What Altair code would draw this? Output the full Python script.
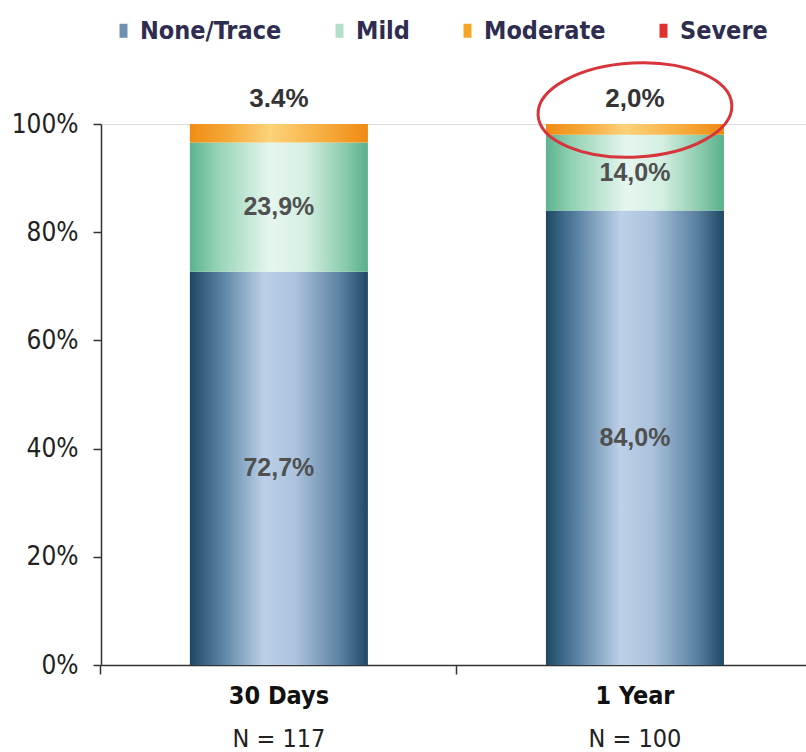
import altair as alt
import pandas as pd

# Chart values
periods = ["30 Days", "1 Year"]
sample_sizes = ["N = 117", "N = 100"]
categories = ["None/Trace", "Mild", "Moderate", "Severe"]
none_trace = [72.7, 84.0]
mild = [23.9, 14.0]
moderate = [3.4, 2.0]
severe = [0.0, 0.0]
top_labels = ["3.4%", "2,0%"]
highlighted = ["1 Year"]

legend_colors = ["#6f90b0", "#b3e0c9", "#f5a623", "#e0312f"]

series = [none_trace, mild, moderate, severe]
rows = []
for i, p in enumerate(periods):
    for order, (cat, vals) in enumerate(zip(categories, series)):
        rows.append({
            "period": p,
            "category": cat,
            "order": order,
            "value": vals[i],
            "label": f"{vals[i]:.1f}".replace(".", ",") + "%",
        })
df = pd.DataFrame(rows)

totals = pd.DataFrame({
    "period": periods,
    "total": [sum(s[i] for s in series) for i in range(len(periods))],
    "top_label": top_labels,
})


def gradient(stops):
    return alt.LinearGradient(
        gradient="linear", x1=0, x2=1, y1=0, y2=0,
        stops=[alt.GradientStop(offset=o, color=c) for o, c in stops],
    )


fills = {
    "None/Trace": gradient([(0, "#1d4864"), (0.15, "#4f7a9b"), (0.42, "#bcd1e8"),
                            (0.6, "#aac2dc"), (0.85, "#5a80a0"), (1, "#1e4864")]),
    "Mild": gradient([(0, "#5bb48e"), (0.15, "#93d2b4"), (0.45, "#e6f6ee"),
                      (0.65, "#d5efe2"), (0.88, "#86c9a9"), (1, "#5aaf8b")]),
    "Moderate": gradient([(0, "#f08c15"), (0.2, "#f5a736"), (0.45, "#fcd27a"),
                          (0.7, "#f8b449"), (1, "#ef8a12")]),
    "Severe": gradient([(0, "#b81c1c"), (0.45, "#f06060"), (1, "#b81c1c")]),
}

FONT = "DejaVu Sans Condensed"
W, H = 705, 541

x_scale = alt.Scale(domain=periods, paddingInner=0.5, paddingOuter=0.24, align=0.52)
y_scale = alt.Scale(domain=[0, 100])
y_axis = alt.Axis(
    values=[0, 20, 40, 60, 80, 100], labelExpr="datum.value + '%'", title=None,
    grid=False, domain=True, ticks=True, labels=True,
    tickSize=8, labelPadding=15, labelFont=FONT, labelFontSize=26,
    labelColor="#222222", domainColor="#333333", tickColor="#333333",
    domainWidth=1.5, tickWidth=1.5,
)
main_x_axis = alt.Axis(
    title=None, labelAngle=0, domain=True, ticks=True, labels=True, grid=False,
    tickSize=9, bandPosition=-0.5, labelPadding=9,
    labelFont=FONT, labelFontSize=25, labelFontWeight="bold", labelColor="#111111",
    domainColor="#333333", tickColor="#333333", domainWidth=1.5, tickWidth=1.5,
    orient="bottom",
)
n_lookup = "{" + ",".join(f"'{p}':'{n}'" for p, n in zip(periods, sample_sizes)) + "}"
n_axis = alt.Axis(
    title=None, labelAngle=0, domain=False, ticks=False, labels=True, grid=False,
    labelPadding=61,
    labelExpr=n_lookup + "[datum.value]", labelFont=FONT, labelFontSize=25,
    labelColor="#222222", orient="bottom",
)

base = alt.Chart(df).transform_stack(
    stack="value", groupby=["period"], as_=["y0", "y1"],
    sort=[alt.SortField("order", order="ascending")],
).transform_filter(alt.datum.value > 0)

# one gradient-filled layer per severity class
layers = []
for k, cat in enumerate(categories):
    layers.append(
        base.transform_filter(alt.datum.category == cat)
        .mark_bar(color=fills[cat])
        .encode(
            x=alt.X("period:N", sort=periods, scale=x_scale,
                    axis=main_x_axis if k == 0 else None),
            y=alt.Y("y0:Q", scale=y_scale, axis=y_axis),
            y2="y1:Q",
        )
    )

# in-bar percentages for the two larger segments
inner_text = (
    base.transform_filter(alt.datum.value >= 10)
    .transform_calculate(mid="(datum.y0 + datum.y1) / 2")
    .mark_text(font="Liberation Sans", fontSize=25, fontWeight="bold", color="#505050")
    .encode(
        x=alt.X("period:N", sort=periods, scale=x_scale, axis=None),
        y=alt.Y("mid:Q", scale=y_scale, axis=y_axis),
        text="label:N",
    )
)

top_text = (
    alt.Chart(totals)
    .mark_text(font="Liberation Sans", fontSize=26, fontWeight="bold", color="#333333", dy=-25)
    .encode(
        x=alt.X("period:N", sort=periods, scale=x_scale, axis=None),
        y=alt.Y("total:Q", scale=y_scale, axis=y_axis),
        text="top_label:N",
    )
)

ellipse = (
    alt.Chart(totals)
    .transform_filter(alt.FieldOneOfPredicate(field="period", oneOf=highlighted))
    .mark_point(
        shape="M-1,0 A1,0.485 0 1,1 1,0 A1,0.485 0 1,1 -1,0 Z",
        size=194 * 194, filled=False, stroke="#d8343c", strokeWidth=3,
        opacity=1, yOffset=-14, angle=357,
    )
    .encode(
        x=alt.X("period:N", sort=periods, scale=x_scale, axis=None),
        y=alt.Y("total:Q", scale=y_scale, axis=y_axis),
    )
)

# transparent bars carrying the sample-size axis and the legend
n_labels = (
    base.mark_bar(opacity=0)
    .encode(
        x=alt.X("period:N", sort=periods, scale=x_scale, axis=n_axis),
        y=alt.Y("y0:Q", scale=y_scale, axis=y_axis),
        y2="y1:Q",
    )
)

legend_layer = (
    base.mark_bar(opacity=0)
    .encode(
        x=alt.X("period:N", sort=periods, scale=x_scale, axis=None),
        y=alt.Y("y0:Q", scale=y_scale, axis=y_axis),
        y2="y1:Q",
        color=alt.Color(
            "category:N",
            scale=alt.Scale(domain=categories, range=legend_colors),
            legend=alt.Legend(
                title=None, orient="none", direction="horizontal",
                legendX=10, legendY=-106, columnPadding=45, labelOffset=4,
                gridAlign="each",
                symbolType="M-0.57,-1H0.57V1H-0.57Z", symbolSize=196,
                symbolStrokeWidth=0, symbolOpacity=1,
                labelFont=FONT, labelFontSize=25, labelFontWeight="bold",
                labelColor="#2e2c4f", labelLimit=0,
            ),
        ),
    )
)

chart = (
    alt.layer(*layers, inner_text, top_text, ellipse, n_labels, legend_layer)
    .resolve_axis(x="independent")
    .properties(
        width=W, height=H,
        autosize=alt.AutoSizeParams(type="none"),
        padding={"left": 101, "top": 124, "right": 0, "bottom": 87},
    )
    .configure_view(stroke="transparent", strokeWidth=0)
    .configure_axis(domain=False, grid=False, ticks=False, labels=False)
    .configure(background="white")
)

chart.save("out.html", embed_options={"renderer": "svg", "actions": False})
